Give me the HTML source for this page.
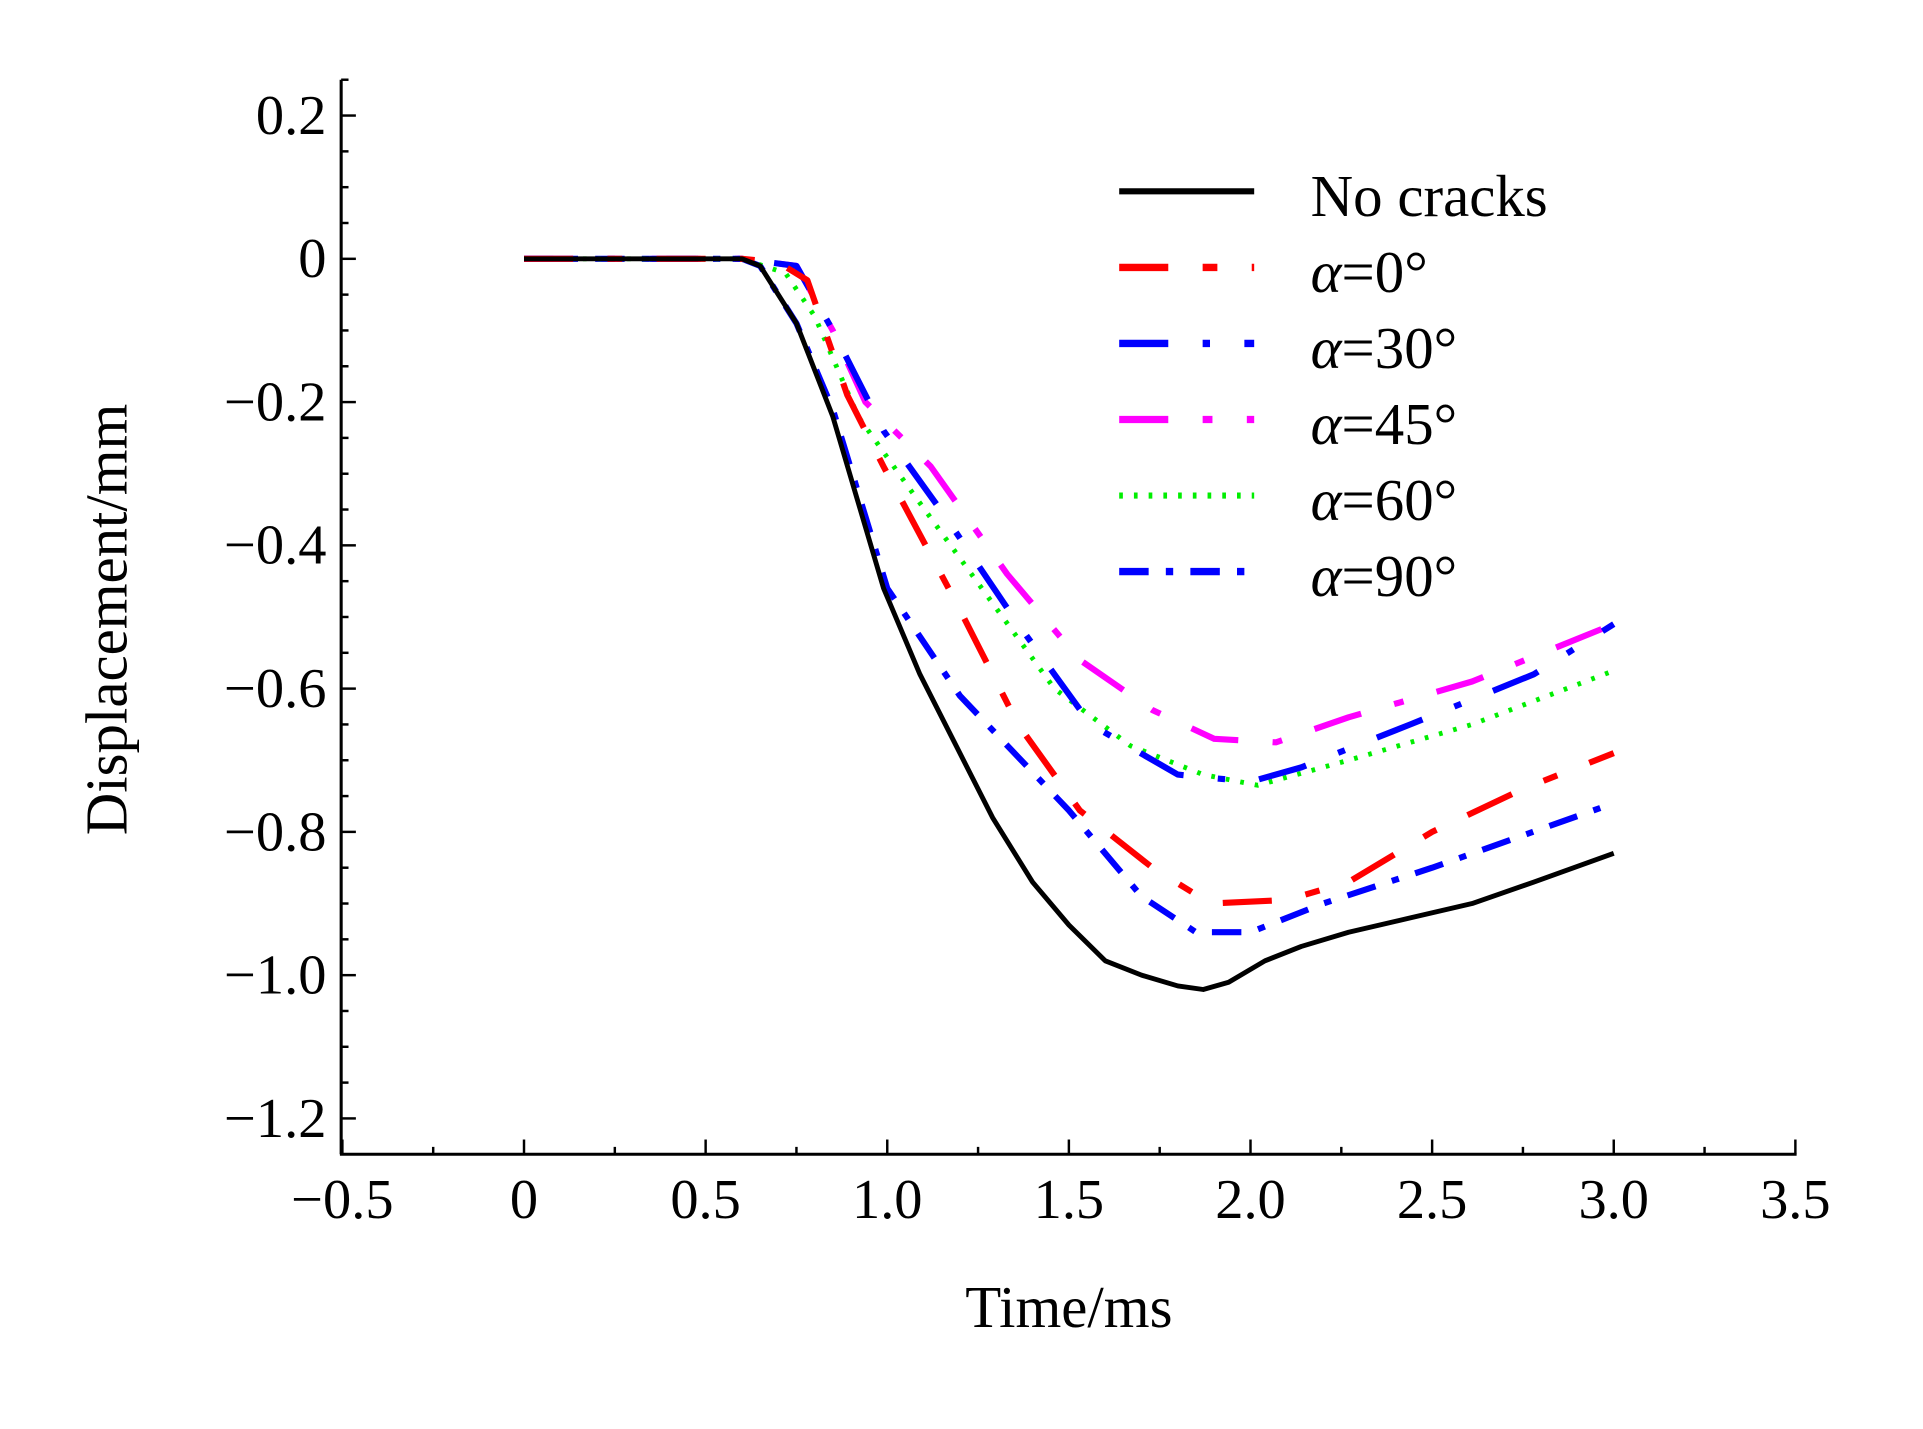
<!DOCTYPE html>
<html><head><meta charset="utf-8"><style>
html,body{margin:0;padding:0;background:#fff;}
svg{display:block;font-family:"Liberation Serif",serif;}
</style></head><body>
<svg id="chart" width="1923" height="1429" viewBox="0 0 1567 1165" preserveAspectRatio="none" xmlns="http://www.w3.org/2000/svg"></svg>
<script>
const timeNoCracks=[0,0.6,0.65,0.75,0.85,0.92,0.99,1.09,1.19,1.29,1.4,1.5,1.6,1.7,1.8,1.87,1.94,2.04,2.14,2.27,2.44,2.61,2.78,3.0];
const dispNoCracks=[0,0,-0.01,-0.09,-0.22,-0.34,-0.46,-0.58,-0.68,-0.78,-0.87,-0.93,-0.98,-1.0,-1.015,-1.02,-1.01,-0.98,-0.96,-0.94,-0.92,-0.90,-0.87,-0.83];
const time0=[0,0.6,0.7,0.78,0.89,0.99,1.19,1.36,1.53,1.73,1.89,2.1,2.27,2.5,2.75,3.0];
const disp0=[0,0,-0.005,-0.03,-0.19,-0.29,-0.48,-0.65,-0.77,-0.85,-0.9,-0.895,-0.87,-0.8,-0.74,-0.69];
const time30=[0,0.6,0.75,0.85,0.99,1.16,1.36,1.56,1.8,2.0,2.14,2.44,2.78,3.0];
const disp30=[0,0,-0.01,-0.1,-0.24,-0.36,-0.51,-0.65,-0.72,-0.73,-0.71,-0.65,-0.58,-0.51];
const time45=[0,0.6,0.75,0.85,0.94,1.12,1.33,1.53,1.73,1.9,2.07,2.27,2.61,3.0];
const disp45=[0,0,-0.01,-0.1,-0.2,-0.29,-0.44,-0.56,-0.63,-0.67,-0.675,-0.64,-0.59,-0.51];
const time60=[0,0.6,0.72,0.8,0.92,1.06,1.26,1.46,1.67,1.87,2.02,2.27,2.61,3.0];
const disp60=[0,0,-0.02,-0.08,-0.22,-0.32,-0.46,-0.6,-0.68,-0.72,-0.735,-0.7,-0.65,-0.575];
const time90=[0,0.6,0.65,0.75,0.85,1.0,1.2,1.5,1.7,1.85,2.0,2.2,2.5,3.0];
const disp90=[0,0,-0.01,-0.09,-0.21,-0.46,-0.61,-0.77,-0.89,-0.94,-0.94,-0.9,-0.85,-0.76];
const xTicks=[-0.5,0,0.5,1.0,1.5,2.0,2.5,3.0,3.5];
const xTickLabels=["−0.5","0","0.5","1.0","1.5","2.0","2.5","3.0","3.5"];
const yTicks=[0.2,0,-0.2,-0.4,-0.6,-0.8,-1.0,-1.2];
const yTickLabels=["0.2","0","−0.2","−0.4","−0.6","−0.8","−1.0","−1.2"];
const legendLabels=["No cracks","α=0°","α=30°","α=45°","α=60°","α=90°"];

const NS="http://www.w3.org/2000/svg";
const svg=document.getElementById('chart');
const X=v=>427+(v)*296;
const Y=v=>211-v*584;
function mk(tag,attrs,parent){const e=document.createElementNS(NS,tag);for(const k in attrs)e.setAttribute(k,attrs[k]);(parent||svg).appendChild(e);return e;}
const axY=mk('line',{x1:278,y1:65,x2:278,y2:941,stroke:'#000','stroke-width':2.5});


const axX=mk('line',{x1:277,y1:941,x2:1464,y2:941,stroke:'#000','stroke-width':2.5});


for(let v=-0.5;v<=3.501;v+=0.25){const major=Math.abs(v*2-Math.round(v*2))<1e-6;
 const t=mk('line',{x1:X(v),x2:X(v),y1:941,y2:major?929:935,stroke:'#000','stroke-width':2});
 
 }
for(let v=0.25;v>=-1.2501;v-=0.05){const major=Math.abs(v*5-Math.round(v*5))<1e-6;
 const t=mk('line',{x1:278,x2:major?290:284,y1:Y(v),y2:Y(v),stroke:'#000','stroke-width':2});
 
 }
xTicks.forEach((v,i)=>{const t=mk('text',{x:X(v),y:993,'text-anchor':'middle','font-size':46});t.textContent=xTickLabels[i];
 
 });
yTicks.forEach((v,i)=>{const t=mk('text',{x:266,y:Y(v)+15,'text-anchor':'end','font-size':46});t.textContent=yTickLabels[i];
 
 });
const xt=mk('text',{x:871,y:1082,'text-anchor':'middle','font-size':48});xt.textContent='Time/ms';


const yt=mk('text',{x:0,y:0,'text-anchor':'middle','font-size':48,transform:'translate(103,505) rotate(-90)'});yt.textContent='Displacement/mm';


const series=[
 {t:timeNoCracks,d:dispNoCracks,c:'#000',da:'',w:4,n:'series-no-cracks'},
 {t:time0,d:disp0,c:'#ff0000',da:'40 28 12 28',w:5,n:'series-alpha-0'},
 {t:time30,d:disp30,c:'#0000ff',da:'40 28 6 28',w:5,n:'series-alpha-30'},
 {t:time45,d:disp45,c:'#ff00ff',da:'40 28 8 28',w:5,n:'series-alpha-45'},
 {t:time60,d:disp60,c:'#00ee00',da:'3 9',w:4,n:'series-alpha-60'},
 {t:time90,d:disp90,c:'#0000ff',da:'24 14 6 14',w:5,n:'series-alpha-90'}];
[5,4,3,2,1,0].forEach(i=>{const s=series[i];
 const p=mk('path',{d:s.t.map((t,j)=>(j?'L':'M')+X(t).toFixed(1)+','+Y(s.d[j]).toFixed(1)).join(' '),fill:'none',stroke:s.c,'stroke-width':s.w,'stroke-dasharray':s.da,'stroke-linejoin':'round'});
 
 });
legendLabels.forEach((l,i)=>{const y=156+i*62;const s=series[i];
 const g=mk('g',{});
 
 
 mk('line',{x1:912,x2:1022,y1:y,y2:y,stroke:s.c,'stroke-width':s.w+1,'stroke-dasharray':s.da},g);
 const t=mk('text',{x:1068,y:y+20,'font-size':48},g);
 if(i==0)t.textContent=l;else{const a=mk('tspan',{'font-style':'italic'},t);a.textContent='α';const b=mk('tspan',{},t);b.textContent=l.slice(1);}
});
</script>
</body></html>
